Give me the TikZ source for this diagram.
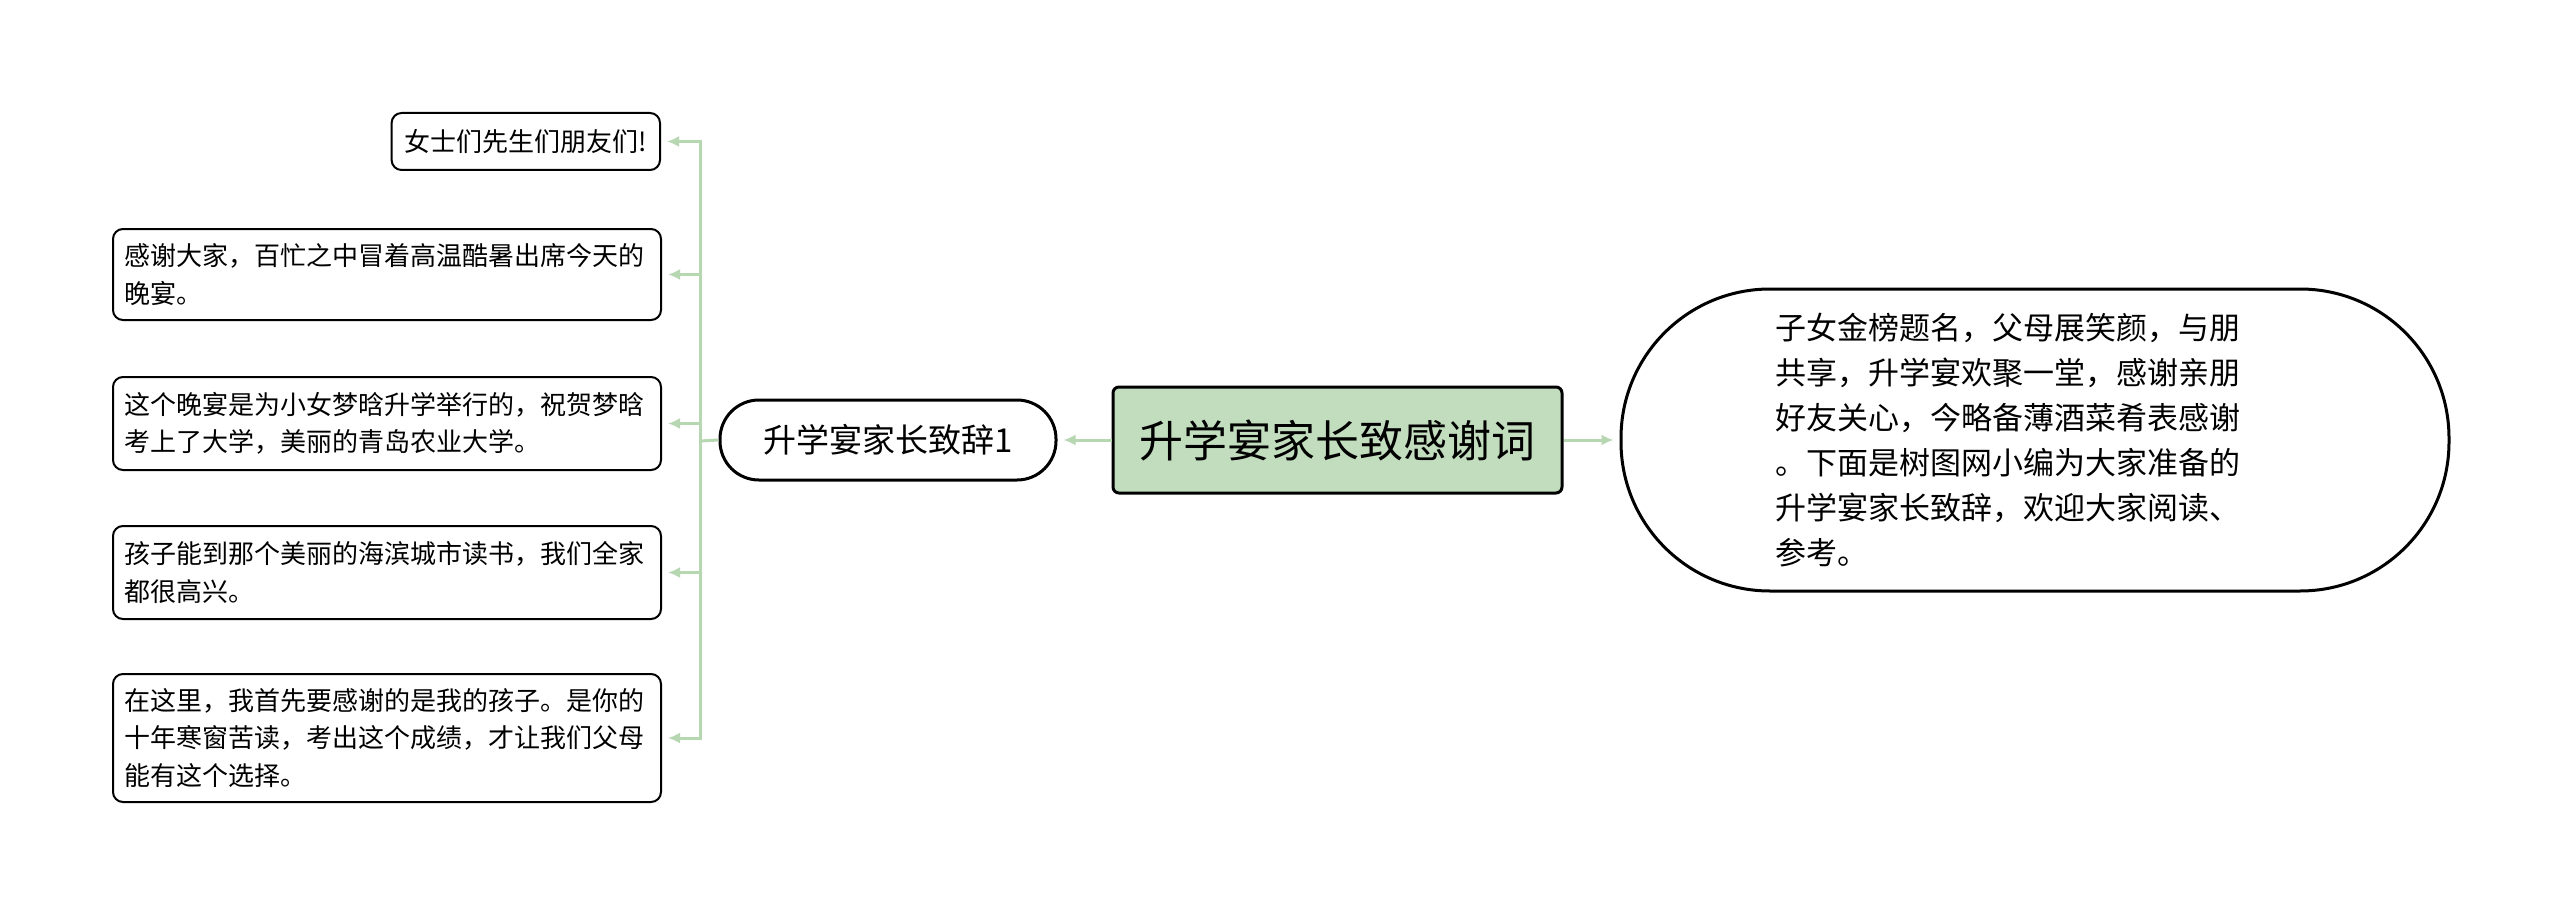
\documentclass[tikz,border=0pt]{standalone}
\usepackage{fontspec}
\setmainfont{Noto Sans CJK SC}
\usetikzlibrary{arrows.meta}
\definecolor{linkgreen}{RGB}{183,214,178}
\definecolor{rootgreen}{RGB}{194,220,190}
\begin{document}
\begin{tikzpicture}[x=1pt,y=-1pt,
  leafbox/.style={draw=black, line width=2pt, rounded corners=10pt, fill=white,
    font=\fontsize{26}{37.5}\selectfont, inner sep=0pt, align=left,
    text width=526pt, minimum width=548pt},
  shortbox/.style={draw=black, line width=2pt, rounded corners=10pt, fill=white,
    font=\fontsize{26}{37.5}\selectfont, inner xsep=13pt, inner ysep=0pt},
  conn/.style={draw=linkgreen, line width=3pt},
  linkarrow/.style={-{Latex[length=12pt,width=11pt]}, shorten >=6pt}
]
\useasboundingbox (0,0) rectangle (2560,915);
\fill[white] (0,0) rectangle (2560,915);

% left leaves
\node[shortbox, minimum height=57pt, anchor=east] (n1) at (661,141.5) {女士们先生们朋友们!};
\node[leafbox, minimum height=91pt] (n2) at (387,274.5) {感谢大家，百忙之中冒着高温酷暑出席今天的\\晚宴。};
\node[leafbox, minimum height=93pt] (n3) at (387,423.5) {这个晚宴是为小女梦晗升学举行的，祝贺梦晗\\考上了大学，美丽的青岛农业大学。};
\node[leafbox, minimum height=93pt] (n4) at (387,572.5) {孩子能到那个美丽的海滨城市读书，我们全家\\都很高兴。};
\node[leafbox, minimum height=128pt] (n5) at (387,738) {在这里，我首先要感谢的是我的孩子。是你的\\十年寒窗苦读，考出这个成绩，才让我们父母\\能有这个选择。};

% branch
\node[draw=black, line width=3pt, rounded corners=39pt, fill=white,
  minimum width=336pt, minimum height=80pt, font=\fontsize{33}{40}\selectfont] (b) at (888,440) {升学宴家长致辞1};

% root
\node[draw=black, fill=rootgreen, line width=3pt, rounded corners=6pt,
  minimum width=449pt, minimum height=106pt, font=\fontsize{44}{52}\selectfont] (c) at (1337.5,440) {升学宴家长致感谢词};

% right node
\node[draw=black, line width=3pt, rounded corners=149pt, fill=white,
  minimum width=828pt, minimum height=302pt, text width=520pt, align=left, inner sep=0pt,
  font=\fontsize{31}{45}\selectfont] (r) at (2035,440) {子女金榜题名，父母展笑颜，与朋\\共享，升学宴欢聚一堂，感谢亲朋\\好友关心，今略备薄酒菜肴表感谢\\。下面是树图网小编为大家准备的\\升学宴家长致辞，欢迎大家阅读、\\参考。};

% connectors
\coordinate (t) at (700,441);
\draw[conn] (b.west) -- (t);
\draw[conn, linkarrow] (t) |- (n1.east);
\draw[conn, linkarrow] (t) |- (n2.east);
\draw[conn, linkarrow] (t) |- (n3.east);
\draw[conn, linkarrow] (t) |- (n4.east);
\draw[conn, linkarrow] (t) |- (n5.east);
\draw[conn, linkarrow] (c.west) -- (b.east);
\draw[conn, linkarrow] (c.east) -- (r.west);
\end{tikzpicture}
\end{document}
